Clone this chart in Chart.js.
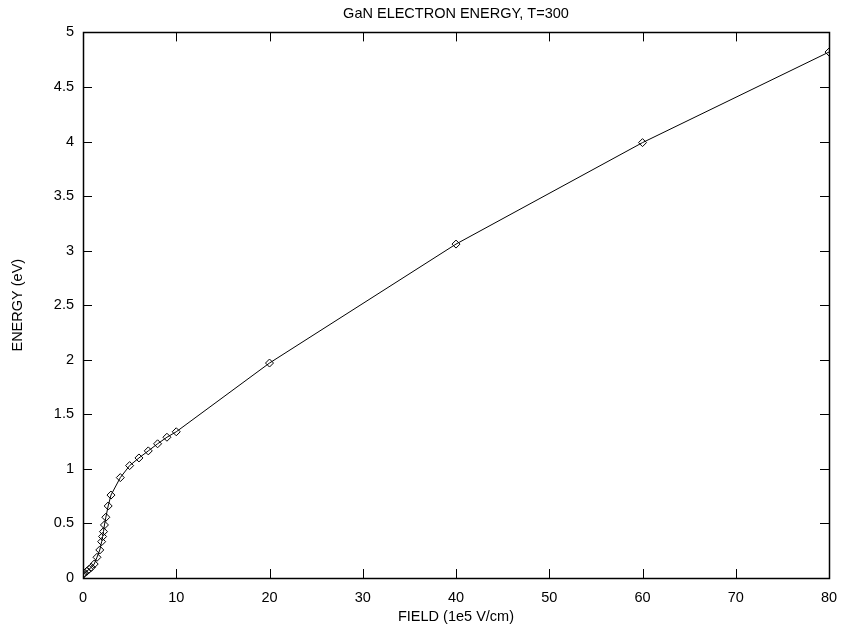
<!DOCTYPE html>
<html>
<head>
<meta charset="utf-8">
<script src="https://cdn.jsdelivr.net/npm/chart.js@4/dist/chart.umd.min.js"></script>
<style>
  html, body { margin: 0; padding: 0; background: #fff; }
  #grafica { display: block; }
</style>
</head>
<body>
<canvas id="grafica" width="842" height="629"></canvas>
<script>
// field in 1e5 V/cm, energy in eV
const fieldValues  = [0.05, 0.1, 0.4, 0.65, 0.9, 1.2, 1.5, 1.8, 2.0, 2.1, 2.2, 2.3, 2.45, 2.7, 3.0, 4, 5, 6, 7, 8, 9, 10, 20, 40, 60, 80];
const energyValues = [0.035, 0.043, 0.061, 0.08, 0.098, 0.128, 0.19, 0.257, 0.333, 0.38, 0.425, 0.486, 0.557, 0.66, 0.76, 0.92, 1.03, 1.10, 1.165, 1.23, 1.29, 1.34, 1.97, 3.06, 3.99, 4.82];
const xTicks = [0, 10, 20, 30, 40, 50, 60, 70, 80];
const yTicks = [0, 0.5, 1, 1.5, 2, 2.5, 3, 3.5, 4, 4.5, 5];

const puntos = fieldValues.map((f, i) => ({ x: f, y: energyValues[i] }));
const fuente = "'Liberation Sans', Arial, Helvetica, sans-serif";

// gnuplot style frame with inward ticks on all four sides
const marco = {
  id: 'marco',
  afterDraw(chart) {
    const ctx = chart.ctx;
    const a = chart.chartArea;
    const sx = chart.scales.x, sy = chart.scales.y;
    const largo = 9;
    ctx.save();
    ctx.strokeStyle = '#000';
    ctx.lineWidth = 1;
    ctx.beginPath();
    xTicks.forEach(v => {
      const px = Math.round(sx.getPixelForValue(v)) + 0.5;
      ctx.moveTo(px, a.bottom); ctx.lineTo(px, a.bottom - largo);
      ctx.moveTo(px, a.top); ctx.lineTo(px, a.top + largo);
    });
    yTicks.forEach(v => {
      const py = Math.round(sy.getPixelForValue(v)) + 0.5;
      ctx.moveTo(a.left, py); ctx.lineTo(a.left + largo, py);
      ctx.moveTo(a.right, py); ctx.lineTo(a.right - largo, py);
    });
    ctx.stroke();
    ctx.lineWidth = 1.5;
    ctx.strokeRect(Math.round(a.left) + 0.5, Math.round(a.top) + 0.5,
                   Math.round(a.right - a.left), Math.round(a.bottom - a.top));
    ctx.restore();
  }
};

const grafica = document.getElementById('grafica');
var chart = new Chart(grafica, {
  type: 'line',
  data: {
    datasets: [{
      data: puntos,
      borderColor: '#000',
      borderWidth: 1,
      backgroundColor: 'rgba(255,255,255,0)',
      pointStyle: 'rectRot',
      pointRadius: 4,
      pointBorderWidth: 1,
      pointBorderColor: '#000',
      pointBackgroundColor: 'rgba(255,255,255,0)',
      tension: 0,
      fill: false
    }]
  },
  options: {
    responsive: false,
    animation: false,
    layout: { padding: { left: 0, right: 13, top: 0, bottom: 0 } },
    plugins: {
      legend: { display: false },
      tooltip: { enabled: false },
      title: {
        display: true,
        text: 'GaN ELECTRON ENERGY, T=300',
        color: '#000',
        fullSize: false,
        font: { family: fuente, size: 14.5, weight: 'normal' },
        padding: { top: 5, bottom: 10 }
      }
    },
    scales: {
      x: {
        type: 'linear',
        min: 0, max: 80,
        afterBuildTicks(scale) { scale.ticks = xTicks.map(v => ({ value: v })); },
        afterFit(scale) {
          scale.height = 51;
          scale.paddingLeft = 0;
          scale.paddingRight = 0;
        },
        grid: { display: false, drawTicks: false },
        border: { display: false },
        ticks: { color: '#000', padding: 11, maxRotation: 0, font: { family: fuente, size: 14.5 } },
        title: {
          display: true,
          text: 'FIELD (1e5 V/cm)',
          color: '#000',
          font: { family: fuente, size: 14.5 },
          padding: { top: 0, bottom: 3 }
        }
      },
      y: {
        type: 'linear',
        min: 0, max: 5,
        afterBuildTicks(scale) { scale.ticks = yTicks.map(v => ({ value: v })); },
        afterFit(scale) { scale.width = 83; },
        grid: { display: false, drawTicks: false },
        border: { display: false },
        ticks: {
          color: '#000', padding: 9, font: { family: fuente, size: 14.5 },
          callback: v => String(v)
        },
        title: {
          display: true,
          text: 'ENERGY (eV)',
          color: '#000',
          font: { family: fuente, size: 14.5 },
          padding: { top: 9, bottom: 0 }
        }
      }
    }
  },
  plugins: [marco]
});
</script>
</body>
</html>
